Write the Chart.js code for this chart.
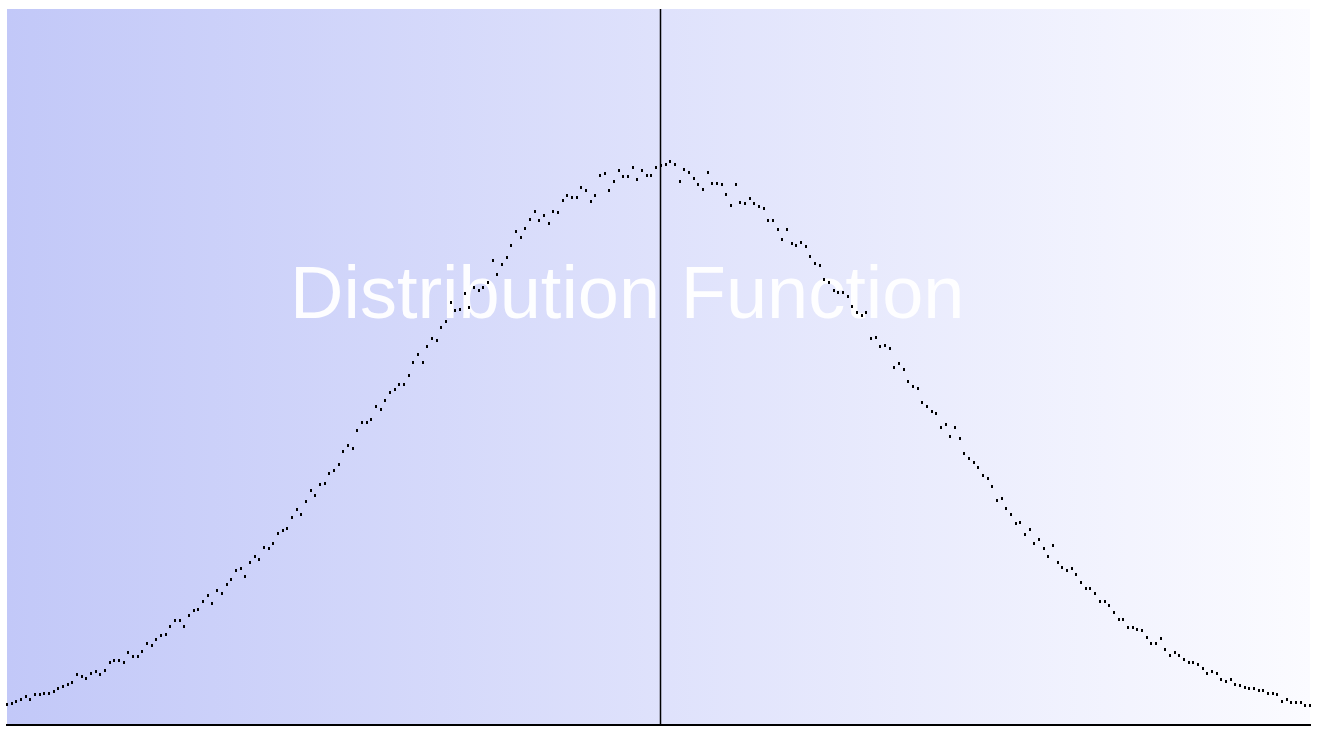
<!DOCTYPE html>
<html>
<head>
<meta charset="utf-8">
<title>Distribution Function</title>
<script src="https://cdn.jsdelivr.net/npm/chart.js@4.4.1/dist/chart.umd.min.js"></script>
<style>
  html, body { margin: 0; padding: 0; background: #fff; }
  #wrap { width: 1320px; height: 729px; position: relative; }
</style>
</head>
<body>
<div id="wrap"><canvas id="distChart"></canvas></div>
<script>
// Sample counts per bin (280 bins)
const counts = [
    20, 21, 23, 25, 28, 25, 30, 30, 31, 31,
    33, 36, 38, 40, 42, 50, 48, 46, 51, 53,
    50, 54, 62, 64, 64, 62, 72, 68, 68, 73,
    81, 79, 85, 89, 90, 98, 104, 104, 98, 109,
    114, 115, 123, 129, 121, 134, 131, 140, 145, 154,
    156, 148, 162, 168, 165, 177, 176, 181, 191, 194,
    196, 207, 215, 210, 223, 234, 229, 240, 241, 251,
    254, 260, 273, 279, 276, 294, 302, 302, 305, 318,
    315, 324, 332, 335, 340, 340, 349, 361, 369, 361,
    377, 385, 383, 396, 402, 421, 413, 414, 430, 416,
    436, 433, 436, 441, 463, 449, 459, 466, 478, 492,
    486, 495, 504, 512, 503, 508, 500, 512, 511, 523,
    528, 526, 526, 536, 533, 522, 528, 548, 550, 533,
    542, 553, 547, 547, 556, 544, 553, 548, 548, 556,
    558, 559, 562, 559, 542, 554, 551, 545, 539, 534,
    551, 540, 540, 539, 529, 518, 539, 521, 520, 525,
    520, 517, 515, 503, 503, 494, 484, 494, 480, 478,
    481, 477, 467, 460, 458, 444, 441, 433, 431, 431,
    427, 417, 411, 408, 411, 385, 386, 377, 378, 375,
    357, 360, 355, 343, 338, 336, 322, 318, 313, 311,
    297, 300, 288, 297, 286, 271, 266, 262, 257, 249,
    246, 238, 224, 226, 216, 210, 201, 202, 190, 195,
    181, 185, 176, 168, 179, 162, 157, 154, 156, 150,
    142, 136, 136, 131, 123, 123, 119, 112, 105, 105,
    97, 97, 95, 94, 87, 81, 81, 86, 75, 69,
    72, 69, 65, 62, 62, 60, 56, 51, 53, 51,
    45, 43, 45, 40, 39, 37, 36, 36, 34, 34,
    31, 31, 30, 23, 25, 22, 22, 22, 19, 19
];
const bins = counts.map((_, i) => i + 1);
const meanBin = 141;      // bin where the vertical marker sits
const countMax = 714;
const titleText = 'Distribution Function';

// tiny 2x3 dot used as point style
const dot = document.createElement('canvas');
dot.width = 2;
dot.height = 3;
const dctx = dot.getContext('2d');
dctx.fillStyle = '#000';
dctx.fillRect(0, 0, 2, 3);

// background gradient + big title under the dots
const backdrop = {
    id: 'backdrop',
    beforeDraw(chart) {
        const { ctx, chartArea: a } = chart;
        const g = ctx.createLinearGradient(a.left, 0, a.right, 0);
        g.addColorStop(0, '#c2c8f8');
        g.addColorStop(1, '#fbfbff');
        ctx.save();
        ctx.fillStyle = g;
        ctx.fillRect(a.left, a.top, a.right - a.left, a.bottom - a.top);
        ctx.restore();
    },
    beforeDatasetsDraw(chart) {
        const { ctx, chartArea: a } = chart;
        ctx.save();
        ctx.font = '74px "Liberation Sans", Arial, sans-serif';
        ctx.fillStyle = 'rgba(255, 255, 255, 0.95)';
        ctx.textAlign = 'left';
        ctx.textBaseline = 'alphabetic';
        ctx.fillText(titleText, a.left + 283, a.top + 309);
        ctx.restore();
    },
    afterDatasetsDraw(chart) {
        const { ctx, chartArea: a, scales } = chart;
        const x = Math.round(scales.x.getPixelForValue(bins.indexOf(meanBin))) - 0.5;
        ctx.save();
        ctx.strokeStyle = '#000';
        ctx.lineWidth = 1.5;
        ctx.beginPath();
        ctx.moveTo(x, a.top);
        ctx.lineTo(x, a.bottom);
        ctx.stroke();
        ctx.restore();
    }
};

new Chart(document.getElementById('distChart'), {
    type: 'line',
    data: {
        labels: bins,
        datasets: [{
            label: 'count',
            data: counts,
            showLine: false,
            pointStyle: dot,
            pointRadius: 2,
            pointHoverRadius: 2
        }]
    },
    options: {
        responsive: true,
        maintainAspectRatio: false,
        animation: false,
        events: [],
        layout: { padding: { left: 7, top: 9, right: 10, bottom: 4 } },
        scales: {
            x: {
                display: true,
                ticks: { display: false },
                grid: { display: false, drawTicks: false },
                border: { display: true, color: '#000', width: 2, dash: [2, 1] }
            },
            y: {
                display: false,
                min: 0,
                max: countMax
            }
        },
        plugins: {
            legend: { display: false },
            tooltip: { enabled: false }
        }
    },
    plugins: [backdrop]
});
</script>
</body>
</html>
